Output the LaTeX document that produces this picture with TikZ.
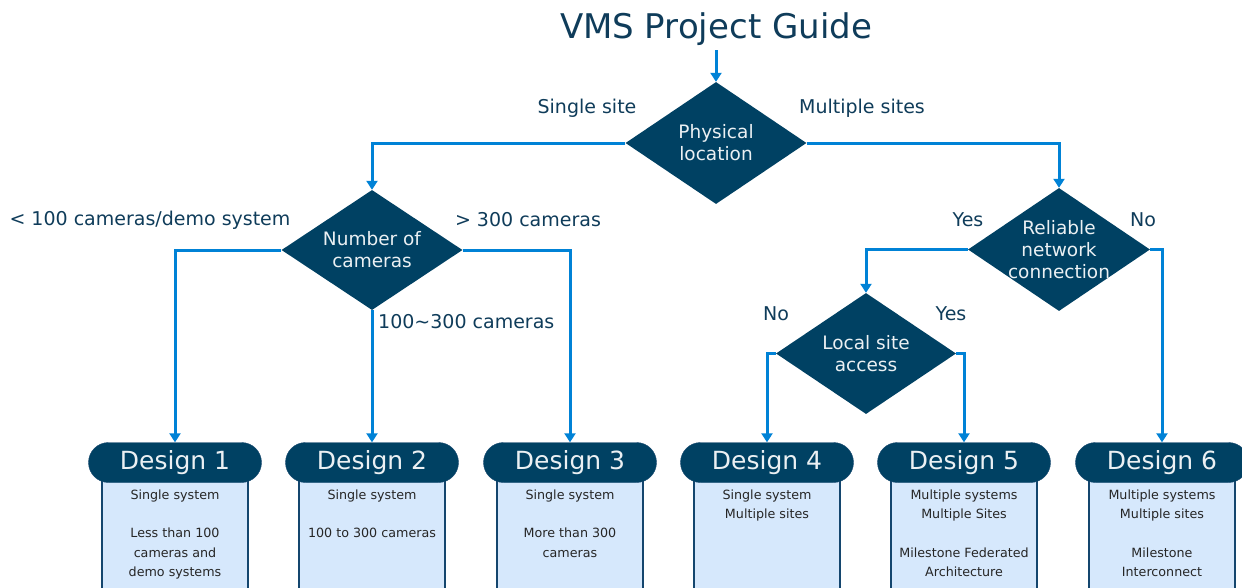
\documentclass[tikz,border=0pt]{standalone}
\usepackage{fontspec}
\setmainfont{DejaVu Sans}
\usetikzlibrary{shapes.geometric,arrows.meta}
\definecolor{navy}{RGB}{0,65,99}
\definecolor{lineblue}{RGB}{0,130,214}
\definecolor{bodyfill}{RGB}{214,232,252}
\definecolor{boxline}{RGB}{20,70,110}
\definecolor{labeltext}{RGB}{15,60,90}
\tikzset{
  decision/.style={diamond, fill=navy, inner sep=0pt,
    minimum width=181pt, minimum height=122pt},
  dtext/.style={text=white!92!navy, align=center, inner sep=0pt,
    font=\fontsize{18.5}{22}\selectfont},
  conn/.style={draw=lineblue, line width=3pt, -{Triangle[width=11pt,length=9pt]}},
  lbl/.style={text=labeltext, font=\fontsize{19}{22}\selectfont, inner sep=0pt},
  header/.style={fill=navy, draw=boxline, rounded corners=20pt, minimum width=173pt,
    minimum height=40pt, inner sep=0pt, text=white!92!navy,
    font=\fontsize{25}{28}\selectfont},
  bodybox/.style={fill=bodyfill, draw=boxline, line width=1.2pt},
  bodytext/.style={text=black!85, font=\fontsize{12.7}{19.3}\selectfont, align=center,
    anchor=north, inner sep=0pt}
}
\begin{document}
\begin{tikzpicture}[x=1pt,y=-1pt]
\useasboundingbox (0,0) rectangle (1242,587);
\clip (0,0) rectangle (1242,587);
\fill[white] (0,0) rectangle (1242,587);

% title
\node[text=labeltext, font=\fontsize{34}{38}\selectfont, inner sep=0pt] (title) at (716,29) {VMS Project Guide};
\coordinate (tstart) at (716,50);

% decisions
\node[decision] (phys) at (716,143) {};
\node[dtext] (physt) at (phys.center) {Physical\\location};
\node[decision, minimum height=120pt] (num) at (372,250) {};
\node[dtext] (numt) at (num.center) {Number of\\cameras};
\node[decision, minimum width=182pt, minimum height=123pt] (rel) at (1059,249.5) {};
\node[dtext] (relt) at (rel.center) {Reliable\\network\\connection};
\node[decision, minimum width=180pt, minimum height=121pt] (loc) at (866,353.5) {};
\node[dtext] (loct) at (loc.center) {Local site\\access};

% design boxes
\foreach \i/\x in {1/175,2/372,3/570,4/767,5/964,6/1162}{
  \draw[bodybox] (\x-73,478) rectangle (\x+73,600);
  \node[header] (d\i) at (\x,462.5) {Design \i};
}
\node[bodytext] (t1) at (175,489.5) {Single system\\[19.3pt]Less than 100\\cameras and\\demo systems};
\node[bodytext] (t2) at (372,489.5) {Single system\\[19.3pt]100 to 300 cameras};
\node[bodytext] (t3) at (570,489.5) {Single system\\[19.3pt]More than 300\\cameras};
\node[bodytext] (t4) at (767,489.5) {Single system\\Multiple sites};
\node[bodytext] (t5) at (964,489.5) {Multiple systems\\Multiple Sites\\[19.3pt]Milestone Federated\\Architecture};
\node[bodytext] (t6) at (1162,489.5) {Multiple systems\\Multiple sites\\[19.3pt]Milestone\\Interconnect};

% connectors
\draw[conn] (tstart) -- (phys.north);
\draw[conn] (phys.west) -| (num.north);
\draw[conn] (phys.east) -| (rel.north);
\draw[conn] (num.west) -| (d1.north);
\draw[conn] (num.south) -- (d2.north);
\draw[conn] (num.east) -| (d3.north);
\draw[conn] (rel.west) -| (loc.north);
\draw[conn] (rel.east) -| (d6.north);
\draw[conn] (loc.west) -| (d4.north);
\draw[conn] (loc.east) -| (d5.north);

% labels
\node[lbl] (l1) at (587,108) {Single site};
\node[lbl] (l2) at (862,108) {Multiple sites};
\node[lbl] (l3) at (150,220) {< 100 cameras/demo system};
\node[lbl] (l4) at (528,220) {> 300 cameras};
\node[lbl, anchor=west] (l5) at (378,322) {100\textasciitilde300 cameras};
\node[lbl] (l6) at (968,220) {Yes};
\node[lbl] (l7) at (1143,220) {No};
\node[lbl] (l8) at (776,314) {No};
\node[lbl] (l9) at (951,314) {Yes};
\end{tikzpicture}
\end{document}
